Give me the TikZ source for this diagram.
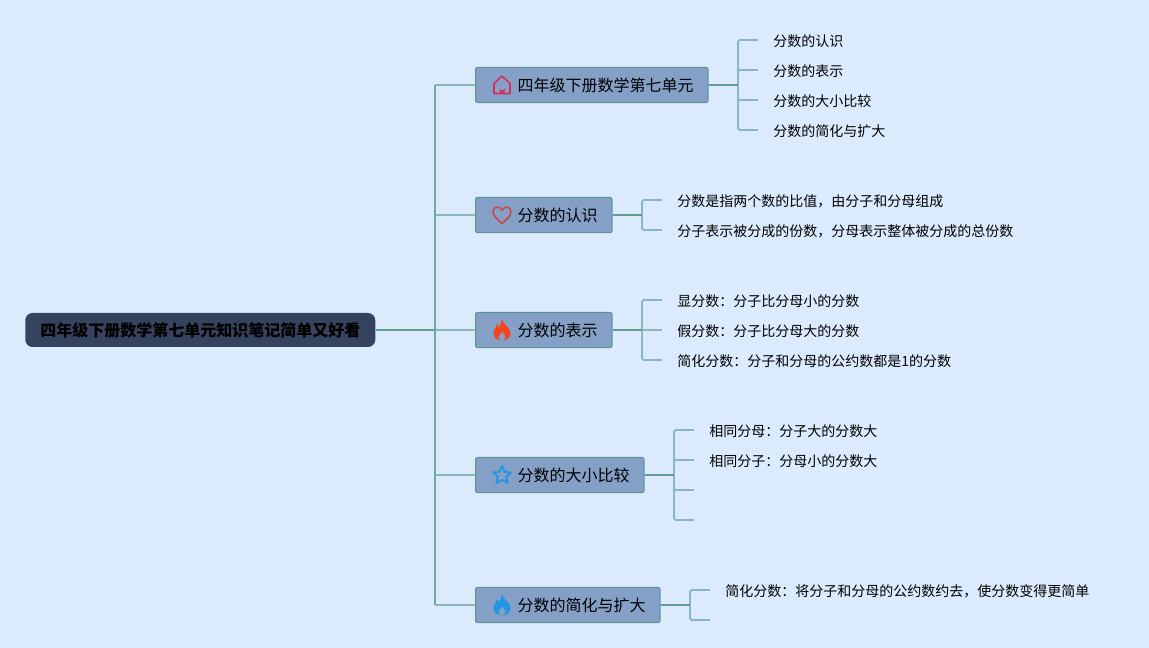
\documentclass[tikz,border=0pt]{standalone}
\usepackage{fontspec}
\setmainfont{Noto Sans CJK SC}
\definecolor{bgc}{HTML}{DBEBFD}
\definecolor{rootc}{HTML}{36435F}
\definecolor{boxc}{HTML}{84A0C6}
\definecolor{boxl}{HTML}{5B9490}
\definecolor{mainl}{HTML}{6FA8A3}
\definecolor{stubl}{HTML}{5F9D94}
\definecolor{leafl}{HTML}{8BB8BD}
\definecolor{ihouse}{HTML}{D3305F}
\definecolor{iheart}{HTML}{C94A4E}
\definecolor{iflame}{HTML}{F5431E}
\definecolor{iblue}{HTML}{2196E3}
\tikzset{
  rootbox/.style={fill=rootc,rounded corners=5.5pt,minimum width=262.5pt,minimum height=25.5pt,inner sep=0pt,font=\fontsize{12pt}{14pt}\selectfont\bfseries,text=black,anchor=west},
  branchbox/.style={fill=boxc,draw=boxl,line width=0.75pt,rounded corners=1.5pt,minimum height=26.5pt,inner ysep=0pt,inner xsep=10.9pt,font=\fontsize{12pt}{14pt}\selectfont,text=black,anchor=west},
  leaflabel/.style={inner ysep=0pt,inner xsep=11.25pt,font=\fontsize{10.5pt}{13pt}\selectfont,text=black,anchor=west},
  mainline/.style={draw=mainl,line width=1.2pt},
  toplight/.style={draw=leafl,line width=1.2pt},
  stubline/.style={draw=stubl,line width=1.4pt},
  leafline/.style={draw=leafl,line width=1.3pt,rounded corners=1.2pt},
  iconline/.style={line width=1.2pt,line join=round,fill=none}
}
\newcommand{\flameicon}[2]{%
  \fill[#1] (0,-10.5) .. controls (1,-5.5) and (8.5,-2.5) .. (8.5,3.5) .. controls (8.5,7.5) and (4.5,10.5) .. (0,10.5) .. controls (-4.5,10.5) and (-8.5,7.5) .. (-8.5,3.5) .. controls (-8.5,-0.5) and (-5.5,-2.5) .. (-5,-6) .. controls (-4,-4.5) and (-3.5,-3) .. (-2.5,-2.5) .. controls (-1.5,-5) and (-1.5,-8) .. (0,-10.5) -- cycle;
  \fill[#2] (0.5,1.5) .. controls (1,4) and (3.5,4.5) .. (3.5,7) .. controls (3.5,9) and (1.5,10.5) .. (0,10.5) .. controls (-2,10.5) and (-3.5,9) .. (-3.5,7) .. controls (-3.5,4.5) and (0,4) .. (0.5,1.5) -- cycle;
}
\newcommand{\btext}[1]{\hspace*{20.6pt}\raisebox{-0.7pt}{#1}}
\begin{document}
\begin{tikzpicture}[x=0.75pt,y=-0.75pt]
\useasboundingbox (0,0) rectangle (1149,648);
\fill[bgc] (0,0) rectangle (1149,648);

\node[rootbox] (root) at (25,330) {\raisebox{-0.7pt}{四年级下册数学第七单元知识笔记简单又好看}};
\coordinate (sp) at (435,330);
\coordinate (sp1) at (435,85);
\coordinate (sp5) at (435,605);

% branch boxes
\node[branchbox] (b1) at (475,85)  {\btext{四年级下册数学第七单元}};
\node[branchbox] (b2) at (475,215) {\btext{分数的认识}};
\node[branchbox] (b3) at (475,330) {\btext{分数的表示}};
\node[branchbox] (b4) at (475,475) {\btext{分数的大小比较}};
\node[branchbox] (b5) at (475,605) {\btext{分数的简化与扩大}};

% leaves
\node[leaflabel] (l11) at (758,41)  {分数的认识};
\node[leaflabel] (l12) at (758,71)  {分数的表示};
\node[leaflabel] (l13) at (758,101) {分数的大小比较};
\node[leaflabel] (l14) at (758,131) {分数的简化与扩大};
\node[leaflabel] (l21) at (662,201) {分数是指两个数的比值，由分子和分母组成};
\node[leaflabel] (l22) at (662,231) {分子表示被分成的份数，分母表示整体被分成的总份数};
\node[leaflabel] (l31) at (662,301) {显分数：分子比分母小的分数};
\node[leaflabel] (l32) at (662,331) {假分数：分子比分母大的分数};
\node[leaflabel] (l33) at (662,361) {简化分数：分子和分母的公约数都是1的分数};
\node[leaflabel] (l41) at (694,431) {相同分母：分子大的分数大};
\node[leaflabel] (l42) at (694,461) {相同分子：分母小的分数大};
\coordinate (l43) at (694,490);
\coordinate (l44) at (694,520);
\node[leaflabel] (l51) at (710,591) {简化分数：将分子和分母的公约数约去，使分数变得更简单};
\coordinate (l52) at (710,620);

% root to branches
\draw[toplight] (sp1) -- (b1.west);
\draw[toplight] (sp1 |- b2.west) -- (b2.west);
\draw[toplight] (sp) -- (b3.west);
\draw[toplight] (sp1 |- b4.west) -- (b4.west);
\draw[toplight] (sp5) -- (b5.west);
\draw[mainline] (sp1) -- (sp5);
\draw[stubline] (root.east) -- (sp);

% branch 1
\coordinate (s1) at (738,85);
\foreach \t/\yy in {l11/40,l12/70,l13/100,l14/130}
  \draw[leafline] (s1) -- (738,\yy) -- (\t.west |- 0,\yy);
\draw[stubline] (b1.east) -- (s1);
% branch 2
\coordinate (s2) at (642,215);
\foreach \t/\yy in {l21/200,l22/230}
  \draw[leafline] (s2) -- (642,\yy) -- (\t.west |- 0,\yy);
\draw[stubline] (b2.east) -- (s2);
% branch 3
\coordinate (s3) at (642,330);
\foreach \t/\yy in {l31/300,l33/360}
  \draw[leafline] (s3) -- (642,\yy) -- (\t.west |- 0,\yy);
\draw[leafline] (s3) -- (l32.west |- s3);
\draw[stubline] (b3.east) -- (s3);
% branch 4
\coordinate (s4) at (674,475);
\foreach \t/\yy in {l41/430,l42/460,l43/490,l44/520}
  \draw[leafline] (s4) -- (674,\yy) -- (\t.west |- 0,\yy);
\draw[stubline] (b4.east) -- (s4);
% branch 5
\coordinate (s5) at (690,605);
\foreach \t/\yy in {l51/590,l52/620}
  \draw[leafline] (s5) -- (690,\yy) -- (\t.west |- 0,\yy);
\draw[stubline] (b5.east) -- (s5);

% icons
\begin{scope}[shift={(502,85)}]
  \draw[ihouse,iconline] (-8,-1.5) -- (0,-9) -- (8,-1.5) -- (8,8.5) -- (-8,8.5) -- cycle;
  \fill[ihouse] (-2.5,8.5) -- (-2.5,3) arc[start angle=180,end angle=0,radius=2.5] -- (2.5,8.5) -- cycle;
\end{scope}
\begin{scope}[shift={(502,215)}]
  \draw[iheart,iconline] (0,8.5) .. controls (-5,4) and (-9,1) .. (-9,-3.5) .. controls (-9,-9) and (-2,-9.5) .. (0,-4.5) .. controls (2,-9.5) and (9,-9) .. (9,-3.5) .. controls (9,1) and (5,4) .. (0,8.5) -- cycle;
\end{scope}
\begin{scope}[shift={(502,330)}]
  \flameicon{iflame}{boxc}
\end{scope}
\begin{scope}[shift={(502,475)}]
  \draw[iblue,iconline,line width=1.4pt] (0,-9) -- (2.6,-3) -- (9,-2.5) -- (4.2,1.8) -- (5.7,8) -- (0,4.8) -- (-5.7,8) -- (-4.2,1.8) -- (-9,-2.5) -- (-2.6,-3) -- cycle;
\end{scope}
\begin{scope}[shift={(502,605)}]
  \flameicon{iblue}{boxc}
\end{scope}
\end{tikzpicture}
\end{document}
